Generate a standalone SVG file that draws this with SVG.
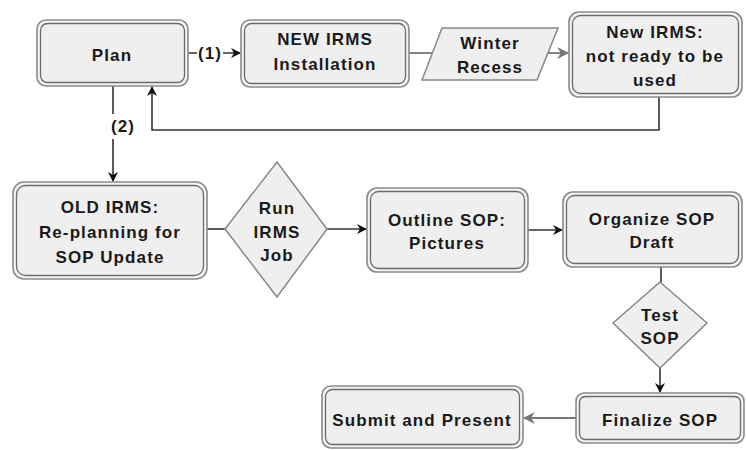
<svg xmlns="http://www.w3.org/2000/svg" width="746" height="450" viewBox="0 0 746 450">
<style>
.o{fill:#f4f4f4;stroke:#8a8a8a;stroke-width:1.6}
.i{fill:#efefef;stroke:#6a6a6a;stroke-width:1.3}
.d{fill:#efefef;stroke:#888;stroke-width:1.5}
.t{font-family:"Liberation Sans",Arial,sans-serif;font-weight:bold;font-size:17px;letter-spacing:1.1px;fill:#1a1a1a;text-anchor:middle}
.c{fill:none;stroke:#333;stroke-width:1.6}
.g{fill:none;stroke:#777;stroke-width:1.8}
</style>
<defs>
<marker id="a" viewBox="0 0 10 10" refX="9" refY="5" markerWidth="10" markerHeight="10" orient="auto" markerUnits="userSpaceOnUse"><path d="M0,0 L10,5 L0,10 L3,5 z" fill="#111"/></marker>
<marker id="ag" viewBox="0 0 10 10" refX="9" refY="5" markerWidth="12" markerHeight="12" orient="auto" markerUnits="userSpaceOnUse"><path d="M0,0 L10,5 L0,10 L3,5 z" fill="#777"/></marker>
</defs>
<rect width="746" height="450" fill="#fff"/>
<g id="connectors">
<path class="c" d="M188,53 H197 M223,53 H240" marker-end="url(#a)"/>
<path class="g" d="M409,53 H432"/>
<path class="g" d="M548,53 H568" marker-end="url(#ag)"/>
<path class="c" d="M659,97 V130 H152 V87" marker-end="url(#a)"/>
<path class="c" d="M113,86 V114 M113,139 V181" marker-end="url(#a)"/>
<path class="c" d="M207,229 H225"/>
<path class="c" d="M327,229 H366" marker-end="url(#a)"/>
<path class="c" d="M528,230 H562" marker-end="url(#a)"/>
<path class="c" d="M661,267 V282"/>
<path class="c" d="M660,368 V392" marker-end="url(#a)"/>
<path class="g" d="M576,418 H524" marker-end="url(#ag)"/>
<text class="t" x="210" y="59">(1)</text>
<text class="t" x="123" y="132">(2)</text>
</g>
<g id="plan"><rect class="o" x="37" y="20" width="151" height="66" rx="9"/><rect class="i" x="40.5" y="23.5" width="144" height="59" rx="7"/><text class="t" x="112" y="61">Plan</text></g>
<g id="new-irms-installation"><rect class="o" x="241" y="20" width="168" height="67" rx="9"/><rect class="i" x="244.5" y="23.5" width="161" height="60" rx="7"/><text class="t" x="325" y="45">NEW IRMS</text><text class="t" x="325" y="70">Installation</text></g>
<g id="winter-recess"><polygon class="d" points="442,28 558,28 537,80 422,80"/><text class="t" x="490" y="49">Winter</text><text class="t" x="490" y="73">Recess</text></g>
<g id="new-irms-not-ready"><rect class="o" x="569" y="12" width="173" height="85" rx="10"/><rect class="i" x="572.5" y="15.5" width="166" height="78" rx="8"/><text class="t" x="655" y="38">New IRMS:</text><text class="t" x="655" y="62">not ready to be</text><text class="t" x="655" y="86">used</text></g>
<g id="old-irms"><rect class="o" x="13" y="182" width="194" height="97" rx="11"/><rect class="i" x="16.5" y="185.5" width="187" height="90" rx="9"/><text class="t" x="110" y="213">OLD IRMS:</text><text class="t" x="110" y="238">Re-planning for</text><text class="t" x="110" y="263">SOP Update</text></g>
<g id="run-irms-job"><polygon class="d" points="277,162 327,229 277,297 225,229"/><text class="t" x="277" y="214">Run</text><text class="t" x="277" y="238">IRMS</text><text class="t" x="277" y="261">Job</text></g>
<g id="outline-sop"><rect class="o" x="367" y="188" width="161" height="84" rx="10"/><rect class="i" x="370.5" y="191.5" width="154" height="77" rx="8"/><text class="t" x="447" y="226">Outline SOP:</text><text class="t" x="447" y="249">Pictures</text></g>
<g id="organize-sop"><rect class="o" x="563" y="192" width="179" height="75" rx="10"/><rect class="i" x="566.5" y="195.5" width="172" height="68" rx="8"/><text class="t" x="652" y="225">Organize SOP</text><text class="t" x="652" y="248">Draft</text></g>
<g id="test-sop"><polygon class="d" points="660,282 707,323 660,368 613,323"/><text class="t" x="660" y="321">Test</text><text class="t" x="660" y="344">SOP</text></g>
<g id="finalize-sop"><rect class="o" x="576" y="393" width="168" height="50" rx="8"/><rect class="i" x="579.5" y="396.5" width="161" height="43" rx="6"/><text class="t" x="660" y="426">Finalize SOP</text></g>
<g id="submit-present"><rect class="o" x="322" y="386" width="201" height="62" rx="9"/><rect class="i" x="325.5" y="389.5" width="194" height="55" rx="7"/><text class="t" x="422" y="426">Submit and Present</text></g>
</svg>
